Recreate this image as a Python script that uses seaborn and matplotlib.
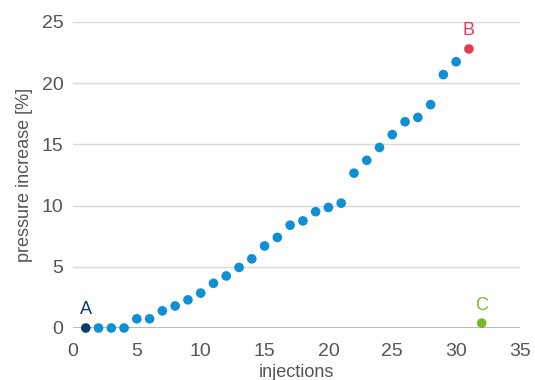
import matplotlib
matplotlib.use("Agg")
import matplotlib.pyplot as plt
import seaborn as sns
import pandas as pd

# injection number and measured pressure increase [%]
injections = list(range(1, 33))
pressure = [0.0, 0.0, 0.0, 0.0, 0.75, 0.75, 1.4, 1.8, 2.3, 2.85,
            3.65, 4.25, 4.95, 5.65, 6.7, 7.4, 8.4, 8.75, 9.5, 9.85,
            10.2, 12.65, 13.7, 14.75, 15.8, 16.85, 17.2, 18.25, 20.7, 21.75,
            22.8, 0.4]
groups = ["A"] + ["mid"] * 29 + ["B", "C"]
labels = {0: "A", 30: "B", 31: "C"}

colors = {"A": "#0b3c6e", "mid": "#0f8fd4", "B": "#e8394f", "C": "#7ab92f"}

df = pd.DataFrame({"injections": injections, "pressure": pressure, "group": groups})

sns.set_theme(style="white")
plt.rcParams["font.family"] = ["Liberation Sans", "DejaVu Sans"]

fig = plt.figure(figsize=(5.35, 3.8), dpi=100)
ax = fig.add_axes([73 / 535, 52 / 380, 447 / 535, 306 / 380])

for y in [5, 10, 15, 20, 25]:
    ax.axhline(y, color="#d9d9d9", linewidth=1.0, zorder=0)
ax.axhline(0, color="#a9b6c4", linewidth=1.3, zorder=1)

sns.scatterplot(data=df, x="injections", y="pressure", hue="group", palette=colors,
                s=48, linewidth=0, legend=False, ax=ax, clip_on=False, zorder=3)

for i, lab in labels.items():
    ax.annotate(lab, (injections[i], pressure[i]), xytext=(0, 13), textcoords="offset points",
                ha="center", va="center", fontsize=13, color=colors[groups[i]])

ax.set_xlim(0, 35)
ax.set_ylim(0, 25)
ax.set_xticks([0, 5, 10, 15, 20, 25, 30, 35])
ax.set_yticks([0, 5, 10, 15, 20, 25])
ax.tick_params(axis="both", length=0, labelsize=14, labelcolor="#555555")
ax.tick_params(axis="x", pad=11)
ax.tick_params(axis="y", pad=7)
for sp in ax.spines.values():
    sp.set_visible(False)

ax.set_xlabel("injections", fontsize=13, color="#555555", labelpad=3)
ax.set_ylabel("pressure increase [%]", fontsize=13, color="#555555", labelpad=6)

fig.savefig("out.png", dpi=100)
